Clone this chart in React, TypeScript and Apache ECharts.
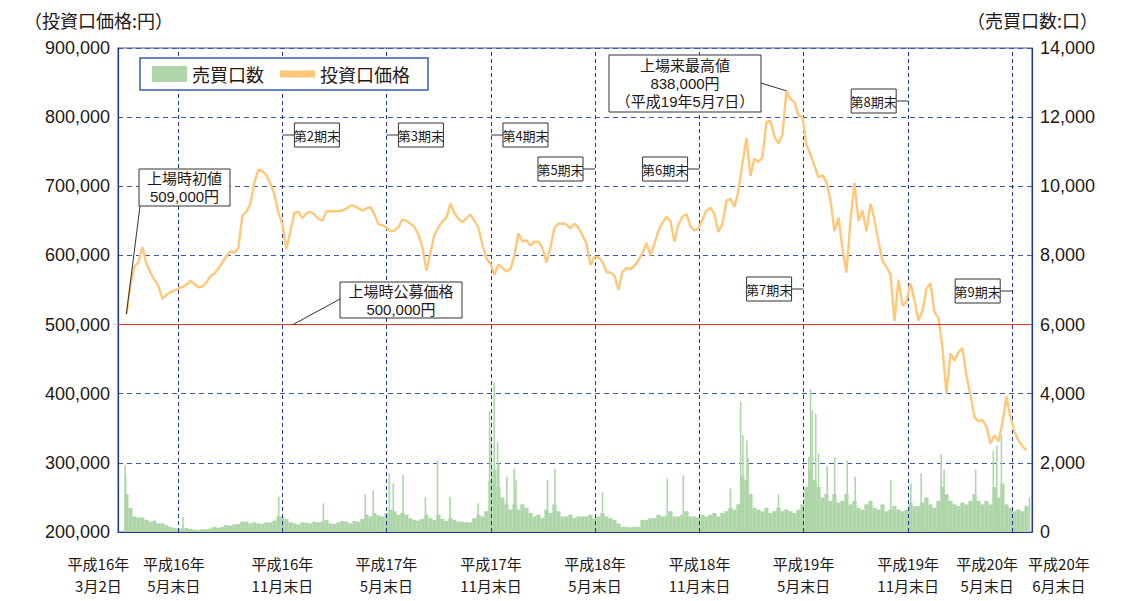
import React, { useEffect, useRef } from 'react';
import * as echarts from 'echarts';

// ---------------- DATA ----------------
// Weekly samples starting 2004-03-02 (every 7 days)
const priceThousandYen = [
  515, 556, 584, 590, 612, 588, 575, 565, 556, 537,
  543, 547, 549, 552, 554, 558, 563, 559, 554, 555,
  561, 570, 574, 581, 590, 599, 606, 604, 611, 658,
  663, 675, 706, 724, 722, 716, 704, 688, 662, 645,
  609, 635, 662, 663, 654, 661, 663, 659, 653, 650,
  664, 664, 664, 664, 665, 668, 672, 672, 668, 665,
  668, 670, 659, 645, 644, 640, 635, 636, 641, 652,
  650, 646, 641, 630, 612, 578, 604, 630, 641, 649,
  655, 675, 661, 653, 648, 654, 659, 650, 640, 615,
  596, 588, 572, 587, 582, 577, 580, 600, 632, 620,
  622, 614, 620, 620, 611, 590, 611, 640, 646, 646,
  645, 639, 646, 640, 629, 617, 586, 598, 597, 591,
  576, 575, 571, 550, 576, 582, 580, 585, 593, 603,
  618, 600, 617, 636, 647, 656, 650, 620, 645, 656,
  660, 642, 636, 639, 652, 665, 669, 660, 634, 646,
  679, 682, 670, 694, 733, 770, 715, 740, 735, 742,
  793, 795, 772, 762, 775, 838, 826, 822, 803, 800,
  760, 746, 730, 713, 716, 706, 680, 635, 655, 610,
  575, 650, 705, 650, 665, 635, 675, 652, 620, 592,
  583, 573, 505, 565, 527, 533, 560, 535, 506, 520,
  552, 560, 518, 510, 466, 400, 458, 448, 460, 466,
  426, 398, 366, 360, 362, 352, 328, 340, 331, 358,
  396, 366, 345, 332, 324, 318,
];

// Typical daily trading volume level of each week (units)
const volumeWeeklyLevel = [
  1100, 700, 450, 420, 420, 350, 300, 330, 250, 250,
  200, 150, 120, 100, 100, 120, 90, 70, 60, 80,
  80, 100, 150, 120, 150, 200, 180, 220, 230, 300,
  300, 250, 280, 250, 230, 280, 280, 330, 450, 450,
  380, 280, 250, 220, 280, 270, 250, 300, 280, 300,
  350, 250, 230, 280, 320, 300, 250, 320, 300, 380,
  500, 450, 550, 480, 450, 550, 650, 600, 500, 550,
  500, 400, 350, 330, 380, 500, 400, 350, 500, 380,
  320, 400, 350, 300, 300, 280, 280, 400, 500, 450,
  600, 1500, 1800, 1300, 1000, 800, 650, 800, 650, 800,
  700, 550, 450, 500, 400, 650, 550, 800, 600, 450,
  450, 500, 400, 450, 450, 450, 500, 400, 450, 550,
  450, 400, 350, 250, 150, 150, 130, 150, 150, 350,
  350, 400, 400, 500, 450, 450, 600, 450, 450, 500,
  600, 450, 450, 420, 500, 450, 500, 550, 450, 550,
  600, 700, 650, 800, 1600, 1500, 1100, 700, 650, 600,
  700, 550, 600, 700, 600, 650, 600, 550, 650, 800,
  1300, 1800, 1500, 1300, 1000, 1100, 900, 1100, 850, 900,
  1100, 800, 900, 700, 650, 800, 900, 700, 650, 800,
  600, 650, 750, 650, 600, 650, 850, 750, 750, 850,
  1000, 800, 700, 900, 1300, 1100, 900, 800, 750, 850,
  800, 900, 1100, 900, 800, 900, 800, 1300, 1000, 1400,
  800, 700, 600, 650, 600, 750,
];

// Single-day volume spikes
const volumeSpikeDates = [
  '2004-03-02', '2004-03-03', '2004-06-11', '2004-11-25', '2005-02-11',
  '2005-04-25', '2005-05-09', '2005-06-06', '2005-06-13', '2005-06-30',
  '2005-08-08', '2005-08-29', '2005-09-20', '2005-11-08', '2005-11-28',
  '2005-12-01', '2005-12-06', '2005-12-12', '2005-12-14', '2005-12-28',
  '2006-01-10', '2006-01-13', '2006-03-09', '2006-03-22', '2006-06-13',
  '2006-10-04', '2006-11-01', '2007-01-22', '2007-02-09', '2007-02-13',
  '2007-02-20', '2007-02-22', '2007-04-16', '2007-06-08', '2007-06-11',
  '2007-06-14', '2007-06-20', '2007-06-25', '2007-07-10', '2007-07-23',
  '2007-08-14', '2007-08-28', '2007-10-29', '2007-12-03', '2007-12-21',
  '2008-01-25', '2008-01-30', '2008-03-25', '2008-04-25', '2008-05-01',
  '2008-05-09', '2008-06-27',
];
const volumeSpikeValues = [
  1930, 1640, 440, 1020, 830,
  1100, 1200, 1690, 1400, 1650,
  1020, 2070, 1020, 830, 3500,
  2750, 4330, 2600, 1980, 1600,
  1830, 1500, 1500, 1830, 1160,
  1550, 1640, 1260, 3770, 2800,
  2650, 2130, 1100, 2170, 4130,
  3510, 3420, 2270, 1900, 2170,
  2070, 1600, 1500, 1400, 1700,
  2250, 1800, 1800, 2360, 2500,
  2800, 1000,
];

const periodEndDates = [
  '2004-05-31', '2004-11-30', '2005-05-31', '2005-11-30', '2006-05-31',
  '2006-11-30', '2007-05-31', '2007-11-30', '2008-05-30',
];

const periodLabels = [
  { text: '第2期末', date: '2004-11-30' },
  { text: '第3期末', date: '2005-05-31' },
  { text: '第4期末', date: '2005-11-30' },
  { text: '第5期末', date: '2006-05-31' },
  { text: '第6期末', date: '2006-11-30' },
  { text: '第7期末', date: '2007-05-31' },
  { text: '第8期末', date: '2007-11-30' },
  { text: '第9期末', date: '2008-05-30' },
];

const xTickLabels = [
  { date: '2004-03-02', text: '平成16年\n3月2日' },
  { date: '2004-05-31', text: '平成16年\n5月末日' },
  { date: '2004-11-30', text: '平成16年\n11月末日' },
  { date: '2005-05-31', text: '平成17年\n5月末日' },
  { date: '2005-11-30', text: '平成17年\n11月末日' },
  { date: '2006-05-31', text: '平成18年\n5月末日' },
  { date: '2006-11-30', text: '平成18年\n11月末日' },
  { date: '2007-05-31', text: '平成19年\n5月末日' },
  { date: '2007-11-30', text: '平成19年\n11月末日' },
  { date: '2008-05-30', text: '平成20年\n5月末日' },
  { date: '2008-06-30', text: '平成20年\n6月末日' },
];

const IPO_PRICE = 500000;
const FIRST_PRICE_TEXT = '上場時初値\n509,000円';
const IPO_TEXT = '上場時公募価格\n500,000円';
const HIGH_TEXT = '上場来最高値\n838,000円\n（平成19年5月7日）';

// ---------------- LAYOUT / STYLE ----------------
const AXIS_MIN = '2004-02-20';
const AXIS_MAX = '2008-06-30';
const FONT_NUM = "'Liberation Sans', Arial, 'Noto Sans CJK JP', sans-serif";
const FONT_JP = "'Noto Sans CJK JP', 'Liberation Sans', sans-serif";
const TEXT_COLOR = '#231815';
const NAVY = '#1f3c8c';
const GRID_BLUE = '#3c58a8';
const LINE_ORANGE = '#ffc878';
const BAR_GREEN = '#aed6a9';

const xLabelDx: Record<string, number> = { '2004-03-02': -28, '2004-05-31': -4, '2008-05-30': -25, '2008-06-30': 29 };
const periodLayout: Record<string, { y: number; side: 'left' | 'right' }> = {
  '第2期末': { y: 135, side: 'right' },
  '第3期末': { y: 135, side: 'right' },
  '第4期末': { y: 135, side: 'right' },
  '第5期末': { y: 169, side: 'left' },
  '第6期末': { y: 169, side: 'left' },
  '第7期末': { y: 289, side: 'left' },
  '第8期末': { y: 101, side: 'left' },
  '第9期末': { y: 291, side: 'left' },
};

function ts(s: string): number {
  const [y, m, d] = s.split('-').map(Number);
  return new Date(y, m - 1, d).getTime();
}

const sampleDates = priceThousandYen.map((_, i) => new Date(2004, 2, 2 + 7 * i).getTime());

function fmt(v: number) {
  return v.toLocaleString('en-US');
}

export default function App() {
  const ref = useRef<HTMLDivElement>(null);

  useEffect(() => {
    if (!ref.current) return;
    const chart = echarts.init(ref.current, undefined, { renderer: 'svg' });

    const priceData = sampleDates.map((d, i) => [d, priceThousandYen[i] * 1000]);
    const volData = sampleDates.map((d, i) => [d, volumeWeeklyLevel[i]]);
    const spikeData = volumeSpikeDates.map((d, i) => [ts(d), volumeSpikeValues[i]]);

    const xBase = {
      type: 'time',
      min: ts(AXIS_MIN),
      max: ts(AXIS_MAX),
      axisLabel: { show: false },
      axisTick: { show: false },
      splitLine: { show: false },
    };

    chart.setOption({
      animation: false,
      backgroundColor: '#ffffff',
      grid: {
        left: 118,
        right: 93,
        top: 48,
        bottom: 69,
        show: true,
        borderColor: GRID_BLUE,
        borderWidth: 1,
      },
      legend: {
        left: 140,
        top: 58,
        padding: [7, 18, 7, 12],
        itemGap: 16,
        itemWidth: 35,
        itemHeight: 16,
        backgroundColor: '#ffffff',
        borderColor: '#3a5bb0',
        borderWidth: 1.5,
        textStyle: { fontSize: 18, color: TEXT_COLOR, fontFamily: FONT_JP },
        data: [
          { name: '売買口数', icon: 'rect' },
          { name: '投資口価格', icon: 'path://M0 0H35V7H0Z' },
        ],
      },
      xAxis: [
        { ...xBase, axisLine: { show: true, lineStyle: { color: NAVY, width: 1.2 } } },
        { ...xBase, show: false },
      ],
      yAxis: [
        {
          type: 'value',
          min: 200000,
          max: 900000,
          interval: 100000,
          position: 'left',
          axisLine: { show: true, lineStyle: { color: NAVY, width: 1.2 } },
          axisTick: { show: false },
          axisLabel: {
            formatter: (v: number) => fmt(v),
            fontSize: 18,
            color: TEXT_COLOR,
            fontFamily: FONT_NUM,
            margin: 8,
          },
          splitLine: { show: true, lineStyle: { color: GRID_BLUE, type: [5, 4], width: 1 } },
        },
        {
          type: 'value',
          min: 0,
          max: 14000,
          interval: 2000,
          position: 'right',
          axisLine: { show: true, lineStyle: { color: NAVY, width: 1.2 } },
          axisTick: { show: false },
          axisLabel: {
            formatter: (v: number) => fmt(v),
            fontSize: 18,
            color: TEXT_COLOR,
            fontFamily: FONT_NUM,
            margin: 8,
          },
          splitLine: { show: false },
        },
      ],
      series: [
        {
          name: '売買口数',
          type: 'bar',
          xAxisIndex: 0,
          yAxisIndex: 1,
          data: volData,
          barWidth: 4.2,
          itemStyle: { color: BAR_GREEN },
          z: 1,
          silent: true,
          markLine: {
            silent: true,
            symbol: 'none',
            label: { show: false },
            lineStyle: { color: NAVY, type: [4, 3], width: 1 },
            data: periodEndDates.map((d) => ({ xAxis: ts(d) })),
            z: 2,
          },
        },
        {
          name: '売買口数',
          type: 'bar',
          xAxisIndex: 1,
          yAxisIndex: 1,
          data: spikeData,
          barWidth: 1.6,
          itemStyle: { color: BAR_GREEN },
          z: 1,
          silent: true,
        },
        {
          name: '投資口価格',
          type: 'line',
          yAxisIndex: 0,
          data: priceData,
          showSymbol: false,
          lineStyle: { color: LINE_ORANGE, width: 2.4 },
          itemStyle: { color: LINE_ORANGE },
          z: 3,
          silent: true,
          markLine: {
            silent: true,
            symbol: 'none',
            label: { show: false },
            lineStyle: { color: '#e5322b', type: 'solid', width: 1 },
            data: [{ yAxis: IPO_PRICE }],
          },
        },
      ],
    });

    const px = (d: number) => chart.convertToPixel({ xAxisIndex: 0 }, d) as unknown as number;
    const py = (v: number) => chart.convertToPixel({ yAxisIndex: 0 }, v) as unknown as number;

    const graphics: any[] = [];

    graphics.push({
      type: 'text', x: 24, y: 20, z: 20,
      style: { text: '（投資口価格:円）', fontSize: 18, fontFamily: FONT_JP, fill: TEXT_COLOR, align: 'left', verticalAlign: 'middle' },
    });
    graphics.push({
      type: 'text', x: 1098, y: 20, z: 20,
      style: { text: '（売買口数:口）', fontSize: 18, fontFamily: FONT_JP, fill: TEXT_COLOR, align: 'right', verticalAlign: 'middle' },
    });

    xTickLabels.forEach((l) => {
      const x = px(ts(l.date)) + (xLabelDx[l.date] || 0);
      graphics.push({
        type: 'text', x, y: 574, z: 20,
        style: { text: l.text, fontSize: 15, lineHeight: 22, fontFamily: FONT_JP, fill: TEXT_COLOR, align: 'center', verticalAlign: 'middle' },
      });
    });

    const BW = 45, BH = 24, GAP = 12;
    periodLabels.forEach((p) => {
      const lay = periodLayout[p.text];
      const gx = px(ts(p.date));
      const bx = lay.side === 'right' ? gx + GAP : gx - GAP - BW;
      graphics.push({
        type: 'line', z: 20,
        shape: { x1: gx, y1: lay.y, x2: lay.side === 'right' ? bx : bx + BW, y2: lay.y },
        style: { stroke: '#333', lineWidth: 1 },
      });
      graphics.push({
        type: 'rect', z: 20,
        shape: { x: bx, y: lay.y - BH / 2, width: BW, height: BH },
        style: { fill: '#fff', stroke: '#333', lineWidth: 1 },
      });
      graphics.push({
        type: 'text', z: 21, x: bx + BW / 2, y: lay.y,
        style: { text: p.text, fontSize: 13, fontFamily: FONT_JP, fill: TEXT_COLOR, align: 'center', verticalAlign: 'middle' },
      });
    });

    const firstX = px(sampleDates[0]);
    const firstY = py(priceThousandYen[0] * 1000);
    let peakIdx = 0;
    priceThousandYen.forEach((v, i) => { if (v > priceThousandYen[peakIdx]) peakIdx = i; });
    const peakX = px(sampleDates[peakIdx]);
    const peakY = py(priceThousandYen[peakIdx] * 1000);
    const ipoY = py(IPO_PRICE);

    const callouts = [
      { text: FIRST_PRICE_TEXT, box: [139, 169, 91, 37], from: [140, 206], to: [firstX, firstY] },
      { text: IPO_TEXT, box: [340, 282, 122, 36], from: [340, 299], to: [293, ipoY] },
      { text: HIGH_TEXT, box: [609, 55, 152, 57], from: [761, 83], to: [peakX, peakY] },
    ];
    callouts.forEach((c) => {
      graphics.push({
        type: 'line', z: 20,
        shape: { x1: c.from[0], y1: c.from[1], x2: c.to[0], y2: c.to[1] },
        style: { stroke: '#333', lineWidth: 1 },
      });
      graphics.push({
        type: 'rect', z: 20,
        shape: { x: c.box[0], y: c.box[1], width: c.box[2], height: c.box[3] },
        style: { fill: '#fff', stroke: '#333', lineWidth: 1 },
      });
      graphics.push({
        type: 'text', z: 21, x: c.box[0] + c.box[2] / 2, y: c.box[1] + c.box[3] / 2,
        style: { text: c.text, fontSize: 15, lineHeight: 18, fontFamily: FONT_NUM, fill: TEXT_COLOR, align: 'center', verticalAlign: 'middle' },
      });
    });

    chart.setOption({ graphic: graphics });

    return () => chart.dispose();
  }, []);

  return (
    <div
      ref={ref}
      style={{ position: 'fixed', left: 0, top: 0, width: 1125, height: 601, background: '#fff' }}
    />
  );
}
